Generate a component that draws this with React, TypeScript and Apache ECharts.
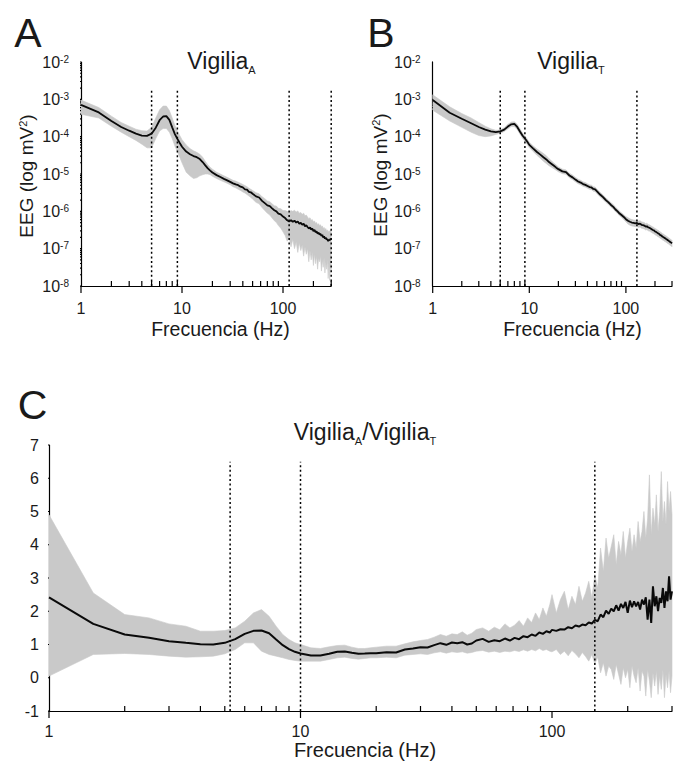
import React, { useEffect, useRef } from 'react';
import * as echarts from 'echarts';

// ---------- data ----------
// Frequencies (Hz) for panels A and B
const freqAB = [
  1, 1.5, 2, 2.5, 3, 3.5, 4, 4.5, 5, 5.5, 6, 6.5, 7, 7.5, 8, 8.5, 9, 9.5, 10,
  11, 12, 13, 14, 15, 16, 17, 18, 19, 20,
  22, 24, 26, 28, 30, 32, 34, 36, 38, 40, 42, 44, 46, 48, 50,
  54, 58, 62, 66, 70, 74, 78, 82, 86, 90,
  95, 100, 105, 110, 115, 120, 125, 130, 135, 140, 145, 150, 155, 160, 165, 170, 175, 180, 185, 190,
  195, 200, 205, 210, 215, 220, 225, 230, 235, 240, 245, 250, 255, 260, 265, 270, 275, 280, 285, 290,
  295, 300,
];

// Panel A (Vigilia A): log10 of power (mV^2)
const meanA = [
  -3.15, -3.35, -3.58, -3.74, -3.84, -3.92, -3.97, -3.98, -3.92, -3.76, -3.56, -3.46, -3.45, -3.55, -3.75, -3.93, -4.06, -4.17, -4.27,
  -4.40, -4.47, -4.52, -4.55, -4.60, -4.68, -4.77, -4.85, -4.91, -4.96,
  -5.03, -5.08, -5.13, -5.17, -5.21, -5.25, -5.28, -5.30, -5.34, -5.36, -5.41, -5.42, -5.48, -5.49, -5.53,
  -5.60, -5.63, -5.72, -5.78, -5.84, -5.86, -5.92, -5.97, -6.00, -6.06,
  -6.08, -6.14, -6.18, -6.24, -6.27, -6.24, -6.28, -6.25, -6.30, -6.27, -6.33, -6.31, -6.36, -6.33, -6.40, -6.37, -6.42, -6.46, -6.43, -6.49,
  -6.46, -6.53, -6.50, -6.56, -6.54, -6.60, -6.57, -6.62, -6.60, -6.66, -6.63, -6.70, -6.67, -6.73, -6.70, -6.76, -6.74, -6.80, -6.76, -6.78,
  -6.74, -6.76,
];
const hiA = [
  -3.02, -3.22, -3.45, -3.62, -3.72, -3.80, -3.84, -3.85, -3.75, -3.50, -3.28, -3.18, -3.18, -3.30, -3.50, -3.70, -3.85, -3.97, -4.08,
  -4.22, -4.32, -4.38, -4.42, -4.47, -4.55, -4.66, -4.75, -4.82, -4.87,
  -4.95, -5.00, -5.05, -5.09, -5.13, -5.17, -5.19, -5.22, -5.25, -5.28, -5.31, -5.34, -5.38, -5.41, -5.44,
  -5.50, -5.53, -5.61, -5.66, -5.72, -5.74, -5.80, -5.85, -5.86, -5.92,
  -5.93, -5.98, -5.98, -6.00, -6.02, -5.98, -6.00, -5.97, -6.02, -5.99, -6.05, -6.03, -6.08, -6.05, -6.12, -6.10, -6.15, -6.20, -6.17, -6.24,
  -6.22, -6.28, -6.26, -6.32, -6.30, -6.36, -6.33, -6.38, -6.36, -6.42, -6.39, -6.46, -6.43, -6.49, -6.46, -6.52, -6.50, -6.56, -6.52, -6.55,
  -6.50, -6.52,
];
const loA = [
  -3.40, -3.50, -3.72, -3.88, -4.00, -4.10, -4.20, -4.30, -4.30, -4.05, -3.85, -3.78, -3.78, -3.88, -4.05, -4.25, -4.40, -4.55, -4.70,
  -4.95, -5.05, -5.12, -5.10, -5.05, -5.02, -5.00, -5.00, -5.02, -5.06,
  -5.12, -5.17, -5.21, -5.25, -5.29, -5.34, -5.37, -5.41, -5.44, -5.48, -5.51, -5.55, -5.59, -5.63, -5.67,
  -5.76, -5.80, -5.90, -5.98, -6.05, -6.10, -6.18, -6.25, -6.30, -6.38,
  -6.45, -6.55, -6.65, -6.80, -6.70, -6.95, -6.75, -7.00, -6.82, -7.10, -6.85, -7.05, -6.90, -7.20, -6.95, -7.15, -7.00, -7.35, -7.05, -7.30,
  -7.10, -7.45, -7.15, -7.40, -7.20, -7.55, -7.25, -7.35, -7.20, -7.60, -7.30, -7.50, -7.25, -7.65, -7.35, -7.55, -7.30, -7.80, -7.40, -7.85,
  -7.45, -7.60,
];

// Panel B (Vigilia T): log10 of power (mV^2)
const meanB = [
  -3.02, -3.36, -3.52, -3.64, -3.74, -3.81, -3.86, -3.88, -3.86, -3.81, -3.73, -3.67, -3.66, -3.74, -3.86, -3.97, -4.05, -4.13, -4.22,
  -4.32, -4.41, -4.48, -4.55, -4.61, -4.68, -4.73, -4.78, -4.83, -4.87,
  -4.93, -4.95, -5.04, -5.09, -5.15, -5.20, -5.23, -5.27, -5.29, -5.32, -5.35, -5.36, -5.40, -5.41, -5.46,
  -5.55, -5.62, -5.70, -5.76, -5.83, -5.88, -5.95, -6.00, -6.06, -6.10,
  -6.15, -6.21, -6.25, -6.28, -6.30, -6.31, -6.32, -6.31, -6.34, -6.33, -6.36, -6.37, -6.38, -6.41, -6.40, -6.43, -6.44, -6.46, -6.48, -6.50,
  -6.51, -6.54, -6.55, -6.57, -6.59, -6.60, -6.63, -6.64, -6.66, -6.68, -6.69, -6.71, -6.72, -6.74, -6.75, -6.77, -6.78, -6.80, -6.81, -6.83,
  -6.84, -6.86,
];
const hiB = [
  -2.88, -3.20, -3.38, -3.50, -3.62, -3.72, -3.79, -3.83, -3.82, -3.76, -3.67, -3.61, -3.60, -3.67, -3.79, -3.90, -3.98, -4.06, -4.15,
  -4.25, -4.33, -4.39, -4.45, -4.51, -4.59, -4.65, -4.71, -4.76, -4.81,
  -4.87, -4.89, -4.98, -5.03, -5.09, -5.14, -5.17, -5.21, -5.23, -5.26, -5.29, -5.30, -5.34, -5.35, -5.40,
  -5.49, -5.56, -5.64, -5.70, -5.77, -5.82, -5.89, -5.94, -6.00, -6.04,
  -6.09, -6.14, -6.17, -6.20, -6.22, -6.23, -6.24, -6.23, -6.26, -6.25, -6.28, -6.29, -6.30, -6.33, -6.32, -6.35, -6.36, -6.38, -6.40, -6.42,
  -6.43, -6.46, -6.47, -6.49, -6.51, -6.52, -6.55, -6.56, -6.58, -6.60, -6.61, -6.63, -6.64, -6.66, -6.67, -6.69, -6.70, -6.72, -6.73, -6.75,
  -6.76, -6.78,
];
const loB = [
  -3.29, -3.58, -3.75, -3.88, -3.97, -4.00, -3.98, -3.94, -3.91, -3.86, -3.79, -3.73, -3.73, -3.81, -3.93, -4.04, -4.12, -4.20, -4.29,
  -4.40, -4.50, -4.58, -4.66, -4.72, -4.78, -4.82, -4.86, -4.90, -4.94,
  -4.99, -5.01, -5.10, -5.15, -5.21, -5.26, -5.29, -5.33, -5.35, -5.38, -5.41, -5.42, -5.46, -5.47, -5.52,
  -5.61, -5.68, -5.76, -5.82, -5.89, -5.94, -6.01, -6.06, -6.12, -6.16,
  -6.22, -6.28, -6.34, -6.37, -6.39, -6.40, -6.41, -6.40, -6.43, -6.42, -6.45, -6.46, -6.47, -6.50, -6.49, -6.52, -6.53, -6.55, -6.57, -6.59,
  -6.60, -6.63, -6.64, -6.66, -6.68, -6.69, -6.72, -6.73, -6.75, -6.77, -6.78, -6.80, -6.81, -6.83, -6.84, -6.86, -6.87, -6.89, -6.90, -6.92,
  -6.93, -6.95,
];

// Panel C (ratio Vigilia A / Vigilia T)
const freqC = [
  1, 1.5, 2, 2.5, 3, 3.5, 4, 4.5, 5, 5.5, 6, 6.5, 7, 7.5, 8, 8.5, 9, 9.5, 10,
  11, 12, 13, 14, 15, 16, 17, 18, 19, 20,
  22, 24, 26, 28, 30, 32, 34, 36, 38, 40, 42, 44, 46, 48, 50,
  53, 56, 59, 62, 65, 68, 71, 74, 77, 80, 83, 86, 89, 92, 95, 98,
  100, 104, 108, 112, 116, 120, 124, 128, 132, 136,
  140, 144, 148, 152, 156, 160, 164, 168, 172, 176,
  180, 184, 188, 192, 196, 200, 204, 208, 212, 216,
  220, 224, 228, 232, 236, 240, 244, 248, 252, 256,
  260, 264, 268, 272, 276, 280, 284, 288, 292, 296,
  300,
];
const meanC = [
  2.42, 1.62, 1.30, 1.20, 1.10, 1.05, 1.01, 1.00, 1.05, 1.16, 1.32, 1.41, 1.42, 1.34, 1.15, 0.98, 0.86, 0.78, 0.73,
  0.67, 0.67, 0.72, 0.78, 0.79, 0.75, 0.72, 0.73, 0.74, 0.74,
  0.77, 0.76, 0.85, 0.88, 0.92, 0.91, 0.98, 1.04, 0.99, 1.06, 1.04, 1.07, 1.00, 1.03, 1.12,
  1.17, 1.08, 1.13, 1.10, 1.18, 1.12, 1.20, 1.16, 1.25, 1.22, 1.30, 1.26, 1.36, 1.32, 1.40, 1.36,
  1.44, 1.41, 1.46, 1.45, 1.52, 1.49, 1.57, 1.54, 1.60, 1.58,
  1.66, 1.63, 1.74, 1.70, 1.90, 1.82, 2.02, 1.92, 2.08, 2.00,
  2.18, 2.02, 2.22, 2.10, 2.28, 1.95, 2.32, 2.12, 2.30, 2.15,
  2.28, 2.05, 2.35, 2.20, 2.42, 1.75, 2.35, 1.65, 2.75, 2.15,
  2.45, 2.00, 2.40, 2.25, 2.70, 2.10, 2.60, 2.30, 3.05, 2.35,
  2.60,
];
const hiC = [
  4.90, 2.55, 1.90, 1.80, 1.62, 1.55, 1.40, 1.40, 1.42, 1.50, 1.70, 1.95, 2.05, 1.85, 1.55, 1.30, 1.15, 1.05, 1.00,
  0.90, 0.88, 0.93, 0.97, 0.98, 0.92, 0.88, 0.88, 0.90, 0.92,
  0.95, 0.95, 1.02, 1.08, 1.12, 1.15, 1.22, 1.30, 1.25, 1.32, 1.30, 1.38, 1.28, 1.34, 1.45,
  1.50, 1.40, 1.52, 1.44, 1.62, 1.50, 1.58, 1.72, 1.55, 1.80, 1.66, 1.95, 1.75, 2.10, 1.85, 2.20,
  2.50, 1.95, 2.35, 2.60, 2.05, 2.45, 2.20, 2.75, 2.30, 2.55,
  2.90, 2.40, 3.10, 2.70, 3.90, 3.20, 4.20, 3.60, 3.95, 4.30,
  3.40, 4.10, 3.70, 4.40, 3.60, 4.10, 4.50, 3.80, 4.30, 3.90,
  4.70, 4.10, 4.40, 5.00, 4.20, 4.80, 6.10, 4.30, 5.10, 4.60,
  5.50, 4.40, 5.00, 6.20, 4.70, 5.30, 4.60, 5.90, 5.00, 5.60,
  4.90,
];
const loC = [
  0.05, 0.70, 0.73, 0.70, 0.65, 0.62, 0.63, 0.65, 0.72, 0.85, 1.05, 1.05, 0.80, 0.70, 0.65, 0.60, 0.55, 0.52, 0.50,
  0.50, 0.50, 0.55, 0.60, 0.62, 0.58, 0.56, 0.58, 0.60, 0.60,
  0.62, 0.60, 0.68, 0.70, 0.72, 0.70, 0.75, 0.78, 0.74, 0.78, 0.76, 0.78, 0.74, 0.76, 0.80,
  0.82, 0.77, 0.80, 0.76, 0.80, 0.78, 0.82, 0.79, 0.84, 0.80, 0.85, 0.81, 0.88, 0.82, 0.85, 0.80,
  0.78, 0.85, 0.70, 0.80, 0.66, 0.82, 0.72, 0.60, 0.76, 0.64,
  0.50, 0.70, 0.42, 0.62, 0.15, 0.45, 0.05, 0.35, 0.25, -0.05,
  0.40, 0.10, -0.20, 0.30, 0.00, 0.25, -0.30, 0.35, 0.05, -0.15,
  0.30, -0.40, 0.20, 0.05, -0.55, 0.25, -0.10, -0.60, 0.15, -0.25,
  0.20, -0.50, 0.05, -0.35, 0.25, -0.60, 0.10, -0.30, 0.20, -0.45,
  0.05,
];

// Band-limit dotted lines (Hz)
const vlinesA = [5, 9, 115, 300];
const vlinesB = [5, 9, 130];
const vlinesC = [5.25, 10, 148];

// Tick labels
const xTickLabels = [1, 10, 100];
const yExponents = [-8, -7, -6, -5, -4, -3, -2];
const cYTicks = [-1, 0, 1, 2, 3, 4, 5, 6, 7];

// ---------- helpers ----------
const FONT = '"Liberation Sans", Arial, Helvetica, sans-serif';
const TXT = '#1a1a1a';
const BAND = '#c9c9c9';
const lg = Math.log10;
const X_MAX = lg(300);

// layout of the three plot areas (px)
const GRIDS = [
  { left: 81, top: 62, width: 250.2, height: 224, yMin: -8, yMax: -2 },
  { left: 432.7, top: 62, width: 249.4, height: 224, yMin: -8, yMax: -2 },
  { left: 49, top: 445, width: 632.9, height: 266, yMin: -1, yMax: 7 },
];

// tick positions (log10 of Hz / exponent units)
const xMajor = xTickLabels.map(lg);
const xMinor: number[] = [];
for (const dec of xTickLabels) {
  for (let k = 2; k <= 9; k++) {
    const v = lg(k * dec);
    if (v <= X_MAX + 1e-9) xMinor.push(v);
  }
}
const yMinor: number[] = [];
for (let i = 0; i < yExponents.length - 1; i++) {
  for (let k = 2; k <= 9; k++) yMinor.push(yExponents[i] + lg(k));
}

const axisLine = { show: true, onZero: false, lineStyle: { color: '#000', width: 1.2 } };

function xAxisFor(gridIndex: number, margin: number) {
  return {
    type: 'value', gridIndex, position: 'bottom', min: 0, max: X_MAX, interval: 1,
    axisLine,
    axisTick: { show: false },
    axisLabel: {
      show: true, margin, fontSize: 16, color: TXT, fontFamily: FONT,
      formatter: (v: number) => {
        const i = xMajor.findIndex((m) => Math.abs(m - v) < 1e-6);
        return i >= 0 ? String(xTickLabels[i]) : '';
      },
    },
    splitLine: { show: false },
  };
}

function yLogAxisFor(gridIndex: number) {
  return {
    type: 'value', gridIndex, position: 'left', min: -8, max: -2, interval: 1,
    axisLine,
    axisTick: { show: false },
    axisLabel: {
      show: true, margin: 12, color: TXT, fontFamily: FONT,
      formatter: (v: number) => `{b|10}{s|${Math.round(v)}}`,
      rich: {
        b: { fontSize: 16, fontFamily: FONT, color: TXT },
        s: { fontSize: 10, fontFamily: FONT, color: TXT, verticalAlign: 'top' },
      },
    },
    splitLine: { show: false },
  };
}

// Ticks as short line series in data units (lengths given in px, converted with the grid scale)
function tickLineSeries(gi: number, yMaj: number[], yMin: number[], yMajLen: number, yMinLen: number) {
  const g = GRIDS[gi];
  const pxPerX = g.width / X_MAX;
  const pxPerY = g.height / (g.yMax - g.yMin);
  const mk = (data: number[][]) => ({
    type: 'line', xAxisIndex: gi, yAxisIndex: gi, silent: true, z: 6, clip: false,
    data, symbol: 'none', showSymbol: false,
    lineStyle: { color: '#000', width: 1.2 },
  });
  const out: any[] = [];
  xMajor.forEach((v) => out.push(mk([[v, g.yMin], [v, g.yMin - 7 / pxPerY]])));
  xMinor.forEach((v) => out.push(mk([[v, g.yMin], [v, g.yMin + 5 / pxPerY]])));
  yMaj.forEach((v) => out.push(mk([[0, v], [-yMajLen / pxPerX, v]])));
  yMin.forEach((v) => out.push(mk([[0, v], [-yMinLen / pxPerX, v]])));
  return out;
}

function bandSeries(xi: number, yi: number, freq: number[], lo: number[], hi: number[]) {
  return {
    type: 'custom', xAxisIndex: xi, yAxisIndex: yi, silent: true, z: 1,
    data: freq.map((f, i) => [lg(f), lo[i], hi[i]]),
    encode: { x: 0, y: [1, 2] },
    renderItem: (params: any, api: any) => {
      if (params.dataIndex !== 0) return null;
      const pts: number[][] = [];
      for (let i = 0; i < freq.length; i++) pts.push(api.coord([lg(freq[i]), hi[i]]));
      for (let i = freq.length - 1; i >= 0; i--) pts.push(api.coord([lg(freq[i]), lo[i]]));
      return { type: 'polygon', shape: { points: pts }, style: { fill: BAND, stroke: BAND, lineWidth: 0.6 } };
    },
  };
}

function meanSeries(xi: number, yi: number, freq: number[], mean: number[], width: number) {
  return {
    type: 'line', xAxisIndex: xi, yAxisIndex: yi, silent: true, z: 3,
    data: freq.map((f, i) => [lg(f), mean[i]]),
    showSymbol: false, symbol: 'none',
    lineStyle: { color: '#0a0a0a', width },
  };
}

function dottedSeries(xi: number, yi: number, lines: number[], y0: number, y1: number) {
  return lines.map((f) => ({
    type: 'line', xAxisIndex: xi, yAxisIndex: yi, silent: true, z: 2,
    data: [[lg(f), y0], [lg(f), y1]],
    symbol: 'none',
    lineStyle: { color: '#000', width: 1.5, type: [2, 2.6] },
  }));
}

function txt(x: number, y: number, text: string, fontSize: number, extra: any = {}) {
  return {
    type: 'text', x, y, silent: true, ...extra,
    style: {
      text, fontSize, fontFamily: FONT, fill: TXT,
      align: 'center', verticalAlign: 'middle', textAlign: 'center', textVerticalAlign: 'middle',
      ...(extra.style || {}),
    },
  };
}

const titleRich = {
  n: { fontSize: 23, fontFamily: FONT, padding: [0, 0, 3, 0] },
  sub: { fontSize: 11, fontFamily: FONT, verticalAlign: 'bottom' },
};
const yNameRich = {
  n: { fontSize: 19, fontFamily: FONT },
  s: { fontSize: 11, fontFamily: FONT, verticalAlign: 'top' },
};

function buildOption(): any {
  return {
    animation: false,
    backgroundColor: '#fff',
    grid: GRIDS.map((g) => ({ left: g.left, top: g.top, width: g.width, height: g.height })),
    xAxis: [xAxisFor(0, 14), xAxisFor(1, 14), xAxisFor(2, 12)],
    yAxis: [
      yLogAxisFor(0),
      yLogAxisFor(1),
      {
        type: 'value', gridIndex: 2, position: 'left', min: -1, max: 7, interval: 1,
        axisLine,
        axisTick: { show: false },
        axisLabel: { show: true, margin: 10, fontSize: 16, color: TXT, fontFamily: FONT },
        splitLine: { show: false },
      },
    ],
    series: [
      bandSeries(0, 0, freqAB, loA, hiA),
      ...dottedSeries(0, 0, vlinesA, -8, -2.75),
      meanSeries(0, 0, freqAB, meanA, 1.8),
      ...tickLineSeries(0, yExponents, yMinor, 7, 4),

      bandSeries(1, 1, freqAB, loB, hiB),
      ...dottedSeries(1, 1, vlinesB, -8, -2.75),
      meanSeries(1, 1, freqAB, meanB, 1.8),
      ...tickLineSeries(1, yExponents, yMinor, 7, 4),

      bandSeries(2, 2, freqC, loC, hiC),
      ...dottedSeries(2, 2, vlinesC, -1, 6.5),
      meanSeries(2, 2, freqC, meanC, 2),
      ...tickLineSeries(2, cYTicks, [], 6, 0),
    ],
    graphic: [
      txt(28, 33, 'A', 41),
      txt(381, 33, 'B', 41),
      txt(32.5, 405, 'C', 41),
      txt(221.5, 62, '{n|Vigilia}{sub|A}', 23, { style: { rich: titleRich } }),
      txt(571, 62, '{n|Vigilia}{sub|T}', 23, { style: { rich: titleRich } }),
      txt(365, 433, '{n|Vigilia}{sub|A}{n|/Vigilia}{sub|T}', 23, { style: { rich: titleRich } }),
      txt(220.5, 329, 'Frecuencia (Hz)', 19.5),
      txt(572.5, 329, 'Frecuencia (Hz)', 19.5),
      txt(365, 750, 'Frecuencia (Hz)', 20),
      txt(26.5, 176, '{n|EEG (log mV}{s|2}{n|)}', 19, { rotation: Math.PI / 2, style: { rich: yNameRich } }),
      txt(380, 175, '{n|EEG (log mV}{s|2}{n|)}', 19, { rotation: Math.PI / 2, style: { rich: yNameRich } }),
    ],
  };
}

export default function App() {
  const ref = useRef<HTMLDivElement>(null);
  useEffect(() => {
    if (!ref.current) return;
    const chart = echarts.init(ref.current, undefined, { renderer: 'svg' });
    chart.setOption(buildOption());
    return () => chart.dispose();
  }, []);
  return (
    <div
      ref={ref}
      style={{ position: 'absolute', left: 0, top: 0, width: 675, height: 763, background: '#fff', overflow: 'hidden' }}
    />
  );
}
